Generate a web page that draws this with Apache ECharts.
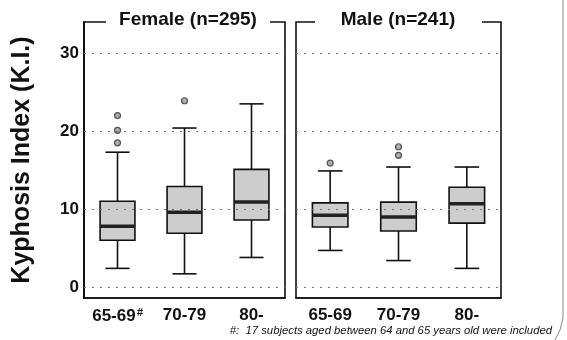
<!DOCTYPE html>
<html>
<head>
<meta charset="utf-8">
<script src="https://cdn.jsdelivr.net/npm/echarts@6/dist/echarts.min.js"></script>
<style>
  body { margin: 0; background: #fff; }
  #chart { width: 567px; height: 340px; }
</style>
</head>
<body>
<div id="chart"></div>
<script>
// age groups
var categories = ['65-69', '70-79', '80-']
var tickValues = [0, 10, 20, 30]
// [catIndex, lowWhisker, Q1, median, Q3, highWhisker]
var femaleBoxes = [
  [0, 2.4, 6.0, 7.8, 11.0, 17.3],
  [1, 1.7, 6.9, 9.6, 12.9, 20.4],
  [2, 3.8, 8.6, 10.9, 15.1, 23.5]
]
var maleBoxes = [
  [0, 4.7, 7.7, 9.2, 10.8, 14.9],
  [1, 3.4, 7.2, 9.0, 10.9, 15.4],
  [2, 2.4, 8.2, 10.7, 12.8, 15.4]
]
var femaleOutliers = [['65-69', 22.0], ['65-69', 20.1], ['65-69', 18.5], ['70-79', 23.9]]
var maleOutliers = [['65-69', 15.9], ['70-79', 18.0], ['70-79', 16.9]]

var FONT = 'Liberation Sans, Arial, sans-serif'

function renderBox (params, api) {
  var x = api.value(0)
  var lo = api.coord([x, api.value(1)])
  var q1 = api.coord([x, api.value(2)])
  var med = api.coord([x, api.value(3)])
  var q3 = api.coord([x, api.value(4)])
  var hi = api.coord([x, api.value(5)])
  var bandW = api.size([1, 0])[0]
  var bw = bandW * 0.52
  var cw = bandW * 0.36
  var cx = lo[0]
  var line = { stroke: '#111', lineWidth: 1.6 }
  return {
    type: 'group',
    children: [
      { type: 'line', shape: { x1: cx, y1: hi[1], x2: cx, y2: q3[1] }, style: line },
      { type: 'line', shape: { x1: cx, y1: q1[1], x2: cx, y2: lo[1] }, style: line },
      { type: 'line', shape: { x1: cx - cw / 2, y1: hi[1], x2: cx + cw / 2, y2: hi[1] }, style: line },
      { type: 'line', shape: { x1: cx - cw / 2, y1: lo[1], x2: cx + cw / 2, y2: lo[1] }, style: line },
      { type: 'rect', shape: { x: cx - bw / 2, y: q3[1], width: bw, height: q1[1] - q3[1] },
        style: { fill: '#cdcdcd', stroke: '#111', lineWidth: 1.6 } },
      { type: 'line', shape: { x1: cx - bw / 2, y1: med[1], x2: cx + bw / 2, y2: med[1] },
        style: { stroke: '#222', lineWidth: 3.5 } }
    ]
  }
}

var gridLines = {
  silent: true,
  symbol: 'none',
  label: { show: false },
  lineStyle: { color: '#777', type: [2, 6], width: 1 },
  data: tickValues.map(function (v) { return { yAxis: v } })
}

function yAxisFor (idx, showLabels) {
  return {
    type: 'value',
    gridIndex: idx,
    min: -1.4,
    max: 34,
    splitLine: { show: false },
    axisTick: { show: false },
    axisLine: { show: showLabels, lineStyle: { color: '#111', width: 2 } },
    axisLabel: {
      show: showLabels,
      customValues: tickValues,
      color: '#111',
      fontFamily: FONT,
      fontWeight: 'bold',
      fontSize: 17,
      margin: 5
    },
    name: showLabels ? 'Kyphosis Index (K.I.)' : '',
    nameLocation: 'middle',
    nameGap: 49,
    nameTextStyle: { fontFamily: FONT, fontWeight: 'bold', fontSize: 25, color: '#111' }
  }
}

function xAxisFor (idx, female) {
  return {
    type: 'category',
    gridIndex: idx,
    data: categories,
    axisLine: { onZero: false, lineStyle: { color: '#111', width: 1.6 } },
    axisTick: { show: false },
    axisLabel: {
      interval: 0,
      margin: 9,
      color: '#111',
      fontFamily: FONT,
      fontWeight: 'bold',
      fontSize: 17,
      formatter: function (v, i) {
        return (female && i === 0) ? '{a|' + v + '}{s|#}' : '{a|' + v + '}'
      },
      rich: {
        a: { fontFamily: FONT, fontWeight: 'bold', fontSize: 17, color: '#111' },
        s: { fontFamily: FONT, fontWeight: 'bold', fontStyle: 'italic', fontSize: 11, color: '#111', verticalAlign: 'top', padding: [0, 0, 8, 1] }
      }
    }
  }
}

var chart = echarts.init(document.getElementById('chart'))
chart.setOption({
  backgroundColor: '#fff',
  animation: false,
  grid: [
    { left: 84, right: 282, top: 22, bottom: 42, show: true, borderColor: '#111', borderWidth: 1.6, backgroundColor: 'transparent' },
    { left: 296, right: 66, top: 22, bottom: 42, show: true, borderColor: '#111', borderWidth: 1.6, backgroundColor: 'transparent' }
  ],
  xAxis: [xAxisFor(0, true), xAxisFor(1, false)],
  yAxis: [yAxisFor(0, true), yAxisFor(1, false)],
  series: [
    { type: 'custom', xAxisIndex: 0, yAxisIndex: 0, renderItem: renderBox, data: femaleBoxes,
      encode: { x: 0, y: [1, 2, 3, 4, 5] }, markLine: gridLines, z: 3 },
    { type: 'custom', xAxisIndex: 1, yAxisIndex: 1, renderItem: renderBox, data: maleBoxes,
      encode: { x: 0, y: [1, 2, 3, 4, 5] }, markLine: gridLines, z: 3 },
    { type: 'scatter', xAxisIndex: 0, yAxisIndex: 0, data: femaleOutliers, symbolSize: 6,
      itemStyle: { color: '#999', borderColor: '#333', borderWidth: 1.2 }, z: 4 },
    { type: 'scatter', xAxisIndex: 1, yAxisIndex: 1, data: maleOutliers, symbolSize: 6,
      itemStyle: { color: '#999', borderColor: '#333', borderWidth: 1.2 }, z: 4 }
  ],
  graphic: [
    // gaps in the top frame for the panel titles
    { type: 'rect', shape: { x: 106, y: 15, width: 164, height: 14 }, style: { fill: '#fff' }, z: 100 },
    { type: 'rect', shape: { x: 315, y: 15, width: 167, height: 14 }, style: { fill: '#fff' }, z: 100 },
    { type: 'text', x: 188, y: 20, z: 101,
      style: { text: 'Female (n=295)', fill: '#111', font: 'bold 19px ' + FONT, textAlign: 'center', textVerticalAlign: 'middle' } },
    { type: 'text', x: 398, y: 20, z: 101,
      style: { text: 'Male (n=241)', fill: '#111', font: 'bold 19px ' + FONT, textAlign: 'center', textVerticalAlign: 'middle' } },
    { type: 'text', x: 552, y: 331, z: 101,
      style: { text: '#:  17 subjects aged between 64 and 65 years old were included', fill: '#111',
        font: 'italic 11.3px ' + FONT, textAlign: 'right', textVerticalAlign: 'middle' } },
    // page edge of the scan
    { type: 'polyline', z: 50, shape: { points: [[563, 0], [563, 318], [560, 330], [555, 340]] },
      style: { stroke: '#888', lineWidth: 1, fill: 'none' } }
  ]
})
</script>
</body>
</html>
